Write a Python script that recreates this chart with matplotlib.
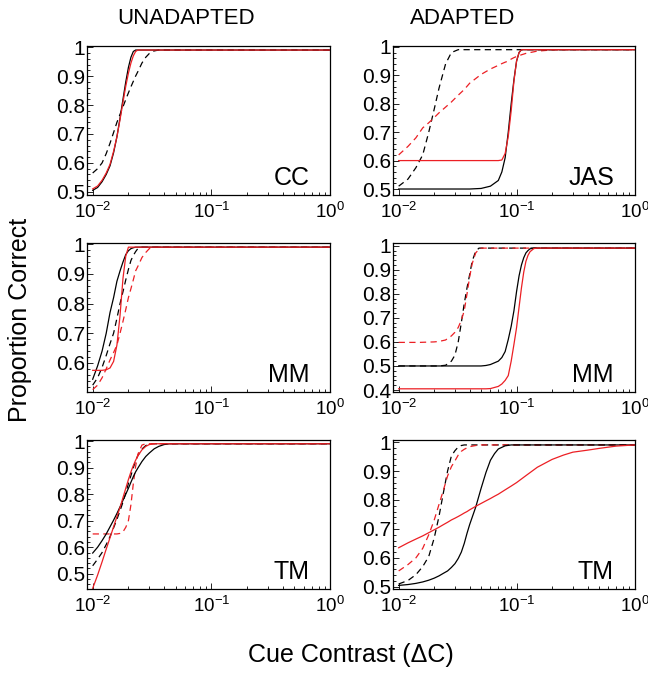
import numpy as np
import matplotlib
matplotlib.use("Agg")
import matplotlib.pyplot as plt
from matplotlib.ticker import FixedLocator, FuncFormatter, LogLocator, LogFormatterSciNotation

plt.rcParams['font.family'] = ['Liberation Sans', 'DejaVu Sans']
plt.rcParams['mathtext.fontset'] = 'custom'
plt.rcParams['mathtext.rm'] = 'Liberation Sans'
plt.rcParams['mathtext.it'] = 'Liberation Sans:italic'
plt.rcParams['mathtext.bf'] = 'Liberation Sans:bold'

RED = '#ec1f24'
DASH = (0, (5, 3.5))

# ---- CC (unadapted) ----
cc_contrast = [0.010, 0.011, 0.012, 0.013, 0.014, 0.015, 0.016, 0.017, 0.018, 0.019, 0.020, 0.021,
               0.022, 0.023, 0.024, 0.026, 0.028, 0.030, 0.033, 0.036, 0.040, 0.050, 0.100, 1.000]
cc_black_solid = [0.505, 0.515, 0.535, 0.560, 0.590, 0.635, 0.690, 0.755, 0.820, 0.880, 0.930, 0.965,
                  0.985, 0.990, 0.990, 0.990, 0.990, 0.990, 0.990, 0.990, 0.990, 0.990, 0.990, 0.990]
cc_red_solid = [0.510, 0.520, 0.540, 0.565, 0.595, 0.640, 0.690, 0.750, 0.810, 0.865, 0.910, 0.945,
                0.970, 0.985, 0.990, 0.990, 0.990, 0.990, 0.990, 0.990, 0.990, 0.990, 0.990, 0.990]
cc_black_dashed = [0.565, 0.580, 0.600, 0.632, 0.668, 0.705, 0.740, 0.768, 0.794, 0.819, 0.842, 0.863,
                   0.882, 0.900, 0.915, 0.945, 0.965, 0.978, 0.987, 0.990, 0.990, 0.990, 0.990, 0.990]
cc_red_dashed = None

# ---- JAS (adapted) ----
jas_contrast = [0.010, 0.012, 0.014, 0.016, 0.018, 0.020, 0.022, 0.025, 0.028, 0.032, 0.036, 0.040,
                0.050, 0.060, 0.070, 0.075, 0.080, 0.085, 0.090, 0.095, 0.100, 0.105, 0.110, 0.120,
                0.150, 0.200, 0.300, 0.500, 1.000]
jas_black_solid = [0.500, 0.500, 0.500, 0.500, 0.500, 0.500, 0.500, 0.500, 0.500, 0.500, 0.500, 0.500,
                   0.502, 0.510, 0.530, 0.560, 0.610, 0.700, 0.800, 0.885, 0.950, 0.980, 0.990, 0.990,
                   0.990, 0.990, 0.990, 0.990, 0.990]
jas_red_solid = [0.600, 0.600, 0.600, 0.600, 0.600, 0.600, 0.600, 0.600, 0.600, 0.600, 0.600, 0.600,
                 0.600, 0.600, 0.600, 0.602, 0.625, 0.685, 0.775, 0.880, 0.950, 0.980, 0.990, 0.990,
                 0.990, 0.990, 0.990, 0.990, 0.990]
jas_black_dashed = [0.510, 0.535, 0.575, 0.620, 0.700, 0.780, 0.855, 0.940, 0.980, 0.990, 0.990, 0.990,
                    0.990, 0.990, 0.990, 0.990, 0.990, 0.990, 0.990, 0.990, 0.990, 0.990, 0.990, 0.990,
                    0.990, 0.990, 0.990, 0.990, 0.990]
jas_red_dashed = [0.620, 0.650, 0.680, 0.715, 0.733, 0.751, 0.768, 0.788, 0.806, 0.830, 0.850, 0.872,
                  0.903, 0.922, 0.935, 0.941, 0.946, 0.950, 0.957, 0.962, 0.966, 0.969, 0.972, 0.977,
                  0.985, 0.989, 0.990, 0.990, 0.990]

# ---- MM (unadapted) ----
mmu_contrast = [0.010, 0.011, 0.012, 0.013, 0.014, 0.015, 0.016, 0.017, 0.018, 0.019, 0.020, 0.021,
                0.022, 0.023, 0.024, 0.026, 0.028, 0.030, 0.033, 0.036, 0.040, 0.050, 0.100, 1.000]
mmu_black_solid = [0.545, 0.590, 0.640, 0.700, 0.770, 0.820, 0.875, 0.910, 0.940, 0.965, 0.978, 0.985,
                   0.988, 0.990, 0.990, 0.990, 0.990, 0.990, 0.990, 0.990, 0.990, 0.990, 0.990, 0.990]
mmu_red_solid = [0.575, 0.575, 0.575, 0.577, 0.583, 0.605, 0.660, 0.760, 0.885, 0.960, 0.990, 0.990,
                 0.990, 0.990, 0.990, 0.990, 0.990, 0.990, 0.990, 0.990, 0.990, 0.990, 0.990, 0.990]
mmu_black_dashed = [0.525, 0.550, 0.585, 0.625, 0.665, 0.700, 0.750, 0.800, 0.840, 0.880, 0.915, 0.945,
                    0.962, 0.975, 0.985, 0.990, 0.990, 0.990, 0.990, 0.990, 0.990, 0.990, 0.990, 0.990]
mmu_red_dashed = [0.510, 0.525, 0.550, 0.580, 0.610, 0.635, 0.660, 0.700, 0.740, 0.780, 0.820, 0.850,
                  0.880, 0.910, 0.925, 0.955, 0.972, 0.985, 0.990, 0.990, 0.990, 0.990, 0.990, 0.990]

# ---- MM (adapted) ----
mma_contrast = [0.010, 0.015, 0.020, 0.022, 0.025, 0.028, 0.030, 0.032, 0.034, 0.036, 0.038, 0.040,
                0.042, 0.045, 0.048, 0.050, 0.055, 0.060, 0.070, 0.075, 0.080, 0.085, 0.090, 0.095,
                0.100, 0.105, 0.110, 0.115, 0.120, 0.125, 0.130, 0.140, 0.150, 0.200, 1.000]
mma_black_solid = [0.500, 0.500, 0.500, 0.500, 0.500, 0.500, 0.500, 0.500, 0.500, 0.500, 0.500, 0.500,
                   0.500, 0.500, 0.500, 0.500, 0.502, 0.506, 0.520, 0.535, 0.560, 0.610, 0.665, 0.730,
                   0.810, 0.875, 0.920, 0.950, 0.970, 0.980, 0.987, 0.990, 0.990, 0.990, 0.990]
mma_red_solid = [0.405, 0.405, 0.405, 0.405, 0.405, 0.405, 0.405, 0.405, 0.405, 0.405, 0.405, 0.405,
                 0.405, 0.405, 0.405, 0.405, 0.405, 0.406, 0.415, 0.425, 0.440, 0.460, 0.520, 0.590,
                 0.660, 0.745, 0.825, 0.890, 0.935, 0.960, 0.975, 0.988, 0.990, 0.990, 0.990]
mma_black_dashed = [0.500, 0.500, 0.500, 0.500, 0.503, 0.520, 0.545, 0.600, 0.680, 0.760, 0.825, 0.880,
                    0.935, 0.977, 0.990, 0.990, 0.990, 0.990, 0.990, 0.990, 0.990, 0.990, 0.990, 0.990,
                    0.990, 0.990, 0.990, 0.990, 0.990, 0.990, 0.990, 0.990, 0.990, 0.990, 0.990]
mma_red_dashed = [0.598, 0.598, 0.600, 0.602, 0.608, 0.625, 0.640, 0.660, 0.690, 0.730, 0.800, 0.870,
                  0.925, 0.970, 0.985, 0.990, 0.990, 0.990, 0.990, 0.990, 0.990, 0.990, 0.990, 0.990,
                  0.990, 0.990, 0.990, 0.990, 0.990, 0.990, 0.990, 0.990, 0.990, 0.990, 0.990]

# ---- TM (unadapted) ----
tmu_contrast = [0.010, 0.011, 0.012, 0.013, 0.014, 0.015, 0.016, 0.017, 0.018, 0.019, 0.020, 0.021,
                0.022, 0.023, 0.024, 0.026, 0.028, 0.030, 0.033, 0.036, 0.040, 0.045, 0.050, 0.060,
                0.100, 1.000]
tmu_black_solid = [0.578, 0.600, 0.625, 0.650, 0.677, 0.702, 0.727, 0.752, 0.777, 0.800, 0.822, 0.845,
                   0.866, 0.884, 0.898, 0.923, 0.942, 0.955, 0.971, 0.980, 0.987, 0.990, 0.990, 0.990,
                   0.990, 0.990]
tmu_red_solid = [0.445, 0.495, 0.545, 0.593, 0.636, 0.677, 0.715, 0.750, 0.787, 0.822, 0.855, 0.884,
                 0.908, 0.928, 0.944, 0.967, 0.980, 0.987, 0.990, 0.990, 0.990, 0.990, 0.990, 0.990,
                 0.990, 0.990]
tmu_black_dashed = [0.530, 0.555, 0.580, 0.610, 0.640, 0.673, 0.705, 0.738, 0.770, 0.805, 0.840, 0.870,
                    0.900, 0.925, 0.945, 0.970, 0.983, 0.990, 0.990, 0.990, 0.990, 0.990, 0.990, 0.990,
                    0.990, 0.990]
tmu_red_dashed = [0.650, 0.650, 0.650, 0.650, 0.650, 0.650, 0.650, 0.652, 0.658, 0.675, 0.700, 0.760,
                  0.840, 0.905, 0.950, 0.985, 0.990, 0.990, 0.990, 0.990, 0.990, 0.990, 0.990, 0.990,
                  0.990, 0.990]

# ---- TM (adapted) ----
tma_contrast = [0.010, 0.012, 0.014, 0.016, 0.018, 0.020, 0.022, 0.024, 0.026, 0.028, 0.030, 0.032,
                0.034, 0.036, 0.038, 0.040, 0.045, 0.050, 0.055, 0.060, 0.065, 0.070, 0.080, 0.090,
                0.100, 0.120, 0.150, 0.200, 0.250, 0.300, 0.400, 0.500, 0.700, 1.000]
tma_black_solid = [0.505, 0.508, 0.512, 0.517, 0.523, 0.530, 0.538, 0.547, 0.555, 0.567, 0.580, 0.598,
                   0.620, 0.650, 0.685, 0.715, 0.775, 0.840, 0.895, 0.937, 0.960, 0.976, 0.987, 0.990,
                   0.990, 0.990, 0.990, 0.990, 0.990, 0.990, 0.990, 0.990, 0.990, 0.990]
tma_red_solid = [0.635, 0.652, 0.665, 0.676, 0.687, 0.697, 0.706, 0.715, 0.723, 0.731, 0.737, 0.743,
                 0.749, 0.755, 0.760, 0.766, 0.778, 0.788, 0.797, 0.805, 0.813, 0.820, 0.835, 0.848,
                 0.860, 0.884, 0.913, 0.940, 0.955, 0.965, 0.972, 0.978, 0.986, 0.990]
tma_black_dashed = [0.510, 0.522, 0.542, 0.570, 0.605, 0.668, 0.744, 0.827, 0.900, 0.952, 0.970, 0.983,
                    0.988, 0.990, 0.990, 0.990, 0.990, 0.990, 0.990, 0.990, 0.990, 0.990, 0.990, 0.990,
                    0.990, 0.990, 0.990, 0.990, 0.990, 0.990, 0.990, 0.990, 0.990, 0.990]
tma_red_dashed = [0.555, 0.577, 0.600, 0.633, 0.680, 0.730, 0.785, 0.835, 0.883, 0.915, 0.935, 0.955,
                  0.968, 0.975, 0.980, 0.984, 0.988, 0.990, 0.990, 0.990, 0.990, 0.990, 0.990, 0.990,
                  0.990, 0.990, 0.990, 0.990, 0.990, 0.990, 0.990, 0.990, 0.990, 0.990]

panel_names = ['CC', 'JAS', 'MM', 'MM', 'TM', 'TM']
panel_ylims = [(0.49, 1.005), (0.48, 1.004), (0.503, 1.003), (0.393, 1.01), (0.444, 1.003), (0.494, 1.006)]
panel_yticks = [[0.5, 0.6, 0.7, 0.8, 0.9, 1.0],
                [0.5, 0.6, 0.7, 0.8, 0.9, 1.0],
                [0.6, 0.7, 0.8, 0.9, 1.0],
                [0.4, 0.5, 0.6, 0.7, 0.8, 0.9, 1.0],
                [0.5, 0.6, 0.7, 0.8, 0.9, 1.0],
                [0.5, 0.6, 0.7, 0.8, 0.9, 1.0]]
panels = [
    (cc_contrast, cc_black_solid, cc_red_solid, cc_black_dashed, cc_red_dashed),
    (jas_contrast, jas_black_solid, jas_red_solid, jas_black_dashed, jas_red_dashed),
    (mmu_contrast, mmu_black_solid, mmu_red_solid, mmu_black_dashed, mmu_red_dashed),
    (mma_contrast, mma_black_solid, mma_red_solid, mma_black_dashed, mma_red_dashed),
    (tmu_contrast, tmu_black_solid, tmu_red_solid, tmu_black_dashed, tmu_red_dashed),
    (tma_contrast, tma_black_solid, tma_red_solid, tma_black_dashed, tma_red_dashed),
]

W, H = 648, 673
fig = plt.figure(figsize=(W / 100, H / 100), dpi=100)

col_left = [87, 393]
col_width = [243, 241.5]
row_top = [45.7, 243.3, 440.3]
row_height = [149, 148.4, 148.3]


def ytick_fmt(v, pos):
    s = '%.1f' % v
    return '1' if s == '1.0' else s


for i, (x, bs, rs, bd, rd) in enumerate(panels):
    r, c = divmod(i, 2)
    ax = fig.add_axes([col_left[c] / W, 1 - (row_top[r] + row_height[r]) / H,
                       col_width[c] / W, row_height[r] / H])
    ax.set_xscale('log')
    if bd is not None:
        ax.plot(x, bd, color='black', lw=0.9, ls=DASH)
    if rd is not None:
        ax.plot(x, rd, color=RED, lw=0.9, ls=DASH)
    ax.plot(x, bs, color='black', lw=0.9)
    ax.plot(x, rs, color=RED, lw=0.9)

    ax.set_xlim(10 ** -2.048, 1.0)
    ax.set_ylim(*panel_ylims[i])
    ax.xaxis.set_major_locator(FixedLocator([0.01, 0.1, 1.0]))
    ax.xaxis.set_major_formatter(LogFormatterSciNotation())
    ax.xaxis.set_minor_locator(LogLocator(base=10, subs=np.arange(2, 10)))
    ax.xaxis.set_minor_formatter(FuncFormatter(lambda v, p: ''))
    ax.yaxis.set_major_locator(FixedLocator(panel_yticks[i]))
    ax.yaxis.set_major_formatter(FuncFormatter(ytick_fmt))
    ax.yaxis.set_minor_locator(FixedLocator(np.arange(0.4, 1.01, 0.02)))

    ax.tick_params(which='both', direction='in', width=0.6)
    ax.tick_params(which='major', length=4)
    ax.tick_params(which='minor', length=2)
    ax.tick_params(axis='y', pad=1.5, labelsize=15)
    ax.tick_params(axis='x', pad=5, labelsize=13.5)
    for sp in ax.spines.values():
        sp.set_linewidth(0.9)

    ax.text(0.915, 0.065, panel_names[i], transform=ax.transAxes,
            ha='right', va='baseline', fontsize=18)

fig.text(186 / W, 1 - 18 / H, 'UNADAPTED', ha='center', va='center', fontsize=16)
fig.text(463 / W, 1 - 18 / H, 'ADAPTED', ha='center', va='center', fontsize=16)
fig.text(20 / W, 1 - 320 / H, 'Proportion Correct', rotation=90, ha='center', va='center', fontsize=18)
fig.text(351 / W, 1 - 655 / H, 'Cue Contrast (\u0394C)', ha='center', va='center', fontsize=18)

fig.savefig('out.png', dpi=100)
